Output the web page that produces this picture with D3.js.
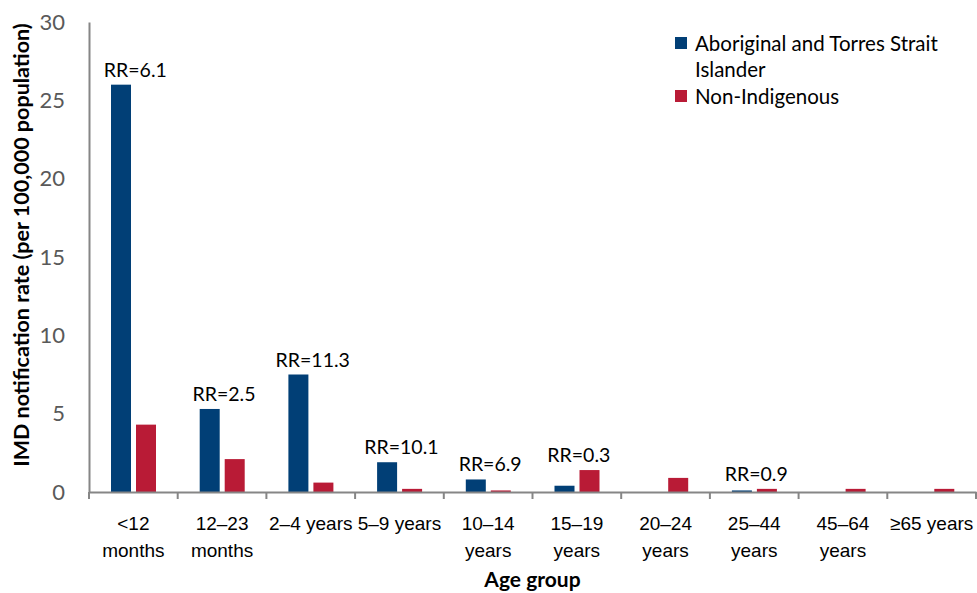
<!DOCTYPE html>
<html>
<head>
<meta charset="utf-8">
<script src="https://cdn.jsdelivr.net/npm/d3@7"></script>
<style>
  html, body { margin: 0; padding: 0; background: #fff; }
  svg { display: block; font-family: Lato, "Open Sans", sans-serif; }
</style>
</head>
<body>
<div id="chart"></div>
<script>
const categories = ['<12\nmonths', '12–23\nmonths', '2–4 years', '5–9 years', '10–14\nyears',
  '15–19\nyears', '20–24\nyears', '25–44\nyears', '45–64\nyears', '≥65 years'];
const seriesNames = ['Aboriginal and Torres Strait Islander', 'Non-Indigenous'];
const indigenous = [26.0, 5.3, 7.5, 1.9, 0.8, 0.4, 0, 0.1, 0, 0];
const nonIndigenous = [4.3, 2.1, 0.6, 0.2, 0.1, 1.4, 0.9, 0.2, 0.2, 0.2];
const rrLabels = ['RR=6.1', 'RR=2.5', 'RR=11.3', 'RR=10.1', 'RR=6.9', 'RR=0.3', '', 'RR=0.9', '', ''];
const yTicks = [0, 5, 10, 15, 20, 25, 30];

const colors = ['#013f76', '#b91b36'];
const width = 977, height = 593;
const margin = { top: 22, right: 1, bottom: 101, left: 89 };

const svg = d3.select('#chart').append('svg')
  .attr('width', width)
  .attr('height', height);

const x = d3.scaleBand()
  .domain(categories)
  .range([margin.left, width - margin.right])
  .paddingInner(0).paddingOuter(0);

const xSub = d3.scaleBand()
  .domain(seriesNames)
  .range([22, 67])
  .paddingInner(0.2);

const y = d3.scaleLinear()
  .domain([0, 30])
  .range([height - margin.bottom, margin.top]);

const rows = categories.map((c, i) => ({ cat: c, values: [indigenous[i], nonIndigenous[i]], rr: rrLabels[i] }));

// bars
const groups = svg.append('g').selectAll('g')
  .data(rows)
  .join('g')
  .attr('transform', d => `translate(${x(d.cat)},0)`);

groups.selectAll('rect')
  .data(d => d.values.map((v, j) => ({ name: seriesNames[j], value: v, j })))
  .join('rect')
  .attr('x', d => xSub(d.name))
  .attr('width', xSub.bandwidth())
  .attr('y', d => y(d.value))
  .attr('height', d => y(0) - y(d.value))
  .attr('fill', d => colors[d.j]);

// RR labels
groups.append('text')
  .attr('x', x.bandwidth() / 2 + 2)
  .attr('y', d => y(d3.max(d.values)) - 8)
  .attr('text-anchor', 'middle')
  .attr('font-size', '19.5px')
  .attr('fill', '#000')
  .text(d => d.rr);

// y axis
const yAxis = d3.axisLeft(y).tickValues(yTicks).tickSize(0).tickPadding(24);
const yg = svg.append('g')
  .attr('transform', `translate(${margin.left},0)`)
  .call(yAxis);
yg.select('.domain').attr('stroke', '#868686').attr('stroke-width', 2);
yg.selectAll('text')
  .attr('fill', '#595959')
  .attr('font-size', '22px')
  .attr('font-family', 'Lato, sans-serif');

// x axis
const xg = svg.append('g')
  .attr('transform', `translate(0,${y(0)})`)
  .call(d3.axisBottom(x).tickSize(0).tickFormat(''));
xg.select('.domain').attr('stroke', '#868686').attr('stroke-width', 2);
xg.selectAll('.tick').remove();

const bounds = x.domain().map(c => x(c)).concat([x.range()[1]]);
xg.selectAll('line.sep')
  .data(bounds)
  .join('line')
  .attr('class', 'sep')
  .attr('x1', d => d).attr('x2', d => d)
  .attr('y1', 0).attr('y2', 7)
  .attr('stroke', '#868686')
  .attr('stroke-width', 2);

const xl = xg.selectAll('text.cat')
  .data(categories)
  .join('text')
  .attr('class', 'cat')
  .attr('text-anchor', 'middle')
  .attr('font-size', '19px')
  .attr('fill', '#000')
  .attr('transform', d => `translate(${x(d) + x.bandwidth() / 2},0)`);
xl.selectAll('tspan')
  .data(d => d.split('\n'))
  .join('tspan')
  .attr('x', 0)
  .attr('y', (d, i) => 38 + i * 27)
  .text(d => d);

// axis titles
svg.append('text')
  .attr('x', (margin.left + width - margin.right) / 2)
  .attr('y', 587)
  .attr('text-anchor', 'middle')
  .attr('font-size', '21px')
  .attr('font-weight', 'bold')
  .text('Age group');

svg.append('text')
  .attr('transform', `translate(29,${(margin.top + y(0)) / 2 - 12}) rotate(-90)`)
  .attr('text-anchor', 'middle')
  .attr('font-size', '21.5px')
  .attr('font-weight', 'bold')
  .text('IMD notification rate (per 100,000 population)');

// legend
const legend = svg.append('g').attr('transform', 'translate(675,37)');
const legendLines = [['Aboriginal and Torres Strait', 'Islander'], ['Non-Indigenous']];
const legendY = [0, 53];
legendLines.forEach((lines, i) => {
  legend.append('rect')
    .attr('x', 0).attr('y', legendY[i])
    .attr('width', 12).attr('height', 12)
    .attr('fill', colors[i]);
  const t = legend.append('text')
    .attr('font-size', '20.5px')
    .attr('fill', '#000');
  lines.forEach((l, k) => {
    t.append('tspan')
      .attr('x', 20)
      .attr('y', legendY[i] + 14 + k * 26)
      .text(l);
  });
});
</script>
</body>
</html>
